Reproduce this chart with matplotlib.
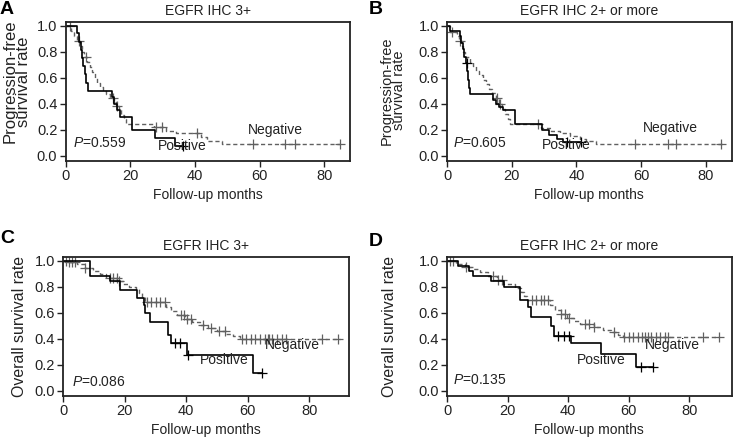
import numpy as np
import matplotlib
matplotlib.use("Agg")
import matplotlib.pyplot as plt

plt.rcParams['font.family'] = ['Liberation Sans', 'DejaVu Sans']
plt.rcParams['mathtext.fontset'] = 'custom'
plt.rcParams['mathtext.it'] = 'Liberation Sans:italic'
plt.rcParams['mathtext.rm'] = 'Liberation Sans'

# -----------------------------------------------
# Data (step times, survival, censor times)
# -----------------------------------------------
# A: PFS, EGFR IHC 3+
a_pos_t = [0, 3.6, 4.2, 4.7, 5.1, 5.5, 5.9, 6.3, 7.0, 14.2, 15.0, 15.8, 16.8, 20.4, 27.6, 33.8]
a_pos_s = [1.0, 0.94, 0.875, 0.81, 0.75, 0.69, 0.625, 0.56, 0.5, 0.45, 0.40, 0.35, 0.30, 0.20, 0.135, 0.07]
a_pos_end = 36.4
a_pos_cens = [36.4]
a_neg_t = [0, 1.8, 2.6, 3.4, 4.4, 5.0, 5.6, 6.6, 7.4, 8.2, 9.0, 9.8, 10.6, 11.4, 12.6, 13.8,
           14.8, 15.6, 16.4, 17.2, 18.0, 18.8, 27.4, 31.0, 34.0, 42.0, 43.6, 48.3]
a_neg_s = [1.0, 0.96, 0.92, 0.88, 0.84, 0.80, 0.76, 0.72, 0.68, 0.64, 0.60, 0.56, 0.53, 0.50, 0.47, 0.44,
           0.41, 0.38, 0.35, 0.31, 0.28, 0.245, 0.22, 0.19, 0.17, 0.14, 0.11, 0.085]
a_neg_end = 85
a_neg_cens = [1.3, 4.1, 6.3, 14.7, 15.8, 28.1, 29.7, 40.5, 58, 67.9, 70.9, 84.9]

# B: PFS, EGFR IHC 2+ or more
b_pos_t = [0, 0.8, 4.0, 4.4, 4.9, 5.3, 5.7, 6.1, 6.5, 6.8, 7.1, 14.2, 15.0, 16.0, 17.2, 20.9, 29.5, 31.5, 34.0, 36.0]
b_pos_s = [1.0, 0.96, 0.92, 0.87, 0.82, 0.76, 0.71, 0.65, 0.58, 0.52, 0.47, 0.43, 0.40, 0.37, 0.35, 0.24, 0.20, 0.155, 0.13, 0.105]
b_pos_end = 41.5
b_pos_cens = [6.0, 37.0, 41.5]
b_neg_t = [0, 1.0, 3.2, 3.8, 4.5, 5.0, 5.6, 7.0, 8.0, 9.0, 10.0, 11.0, 12.0, 13.0, 14.0, 15.0,
           16.0, 17.0, 18.0, 18.8, 19.5, 29.0, 32.0, 35.0, 38.0, 41.0, 43.0, 46.0]
b_neg_s = [1.0, 0.955, 0.92, 0.88, 0.84, 0.80, 0.76, 0.72, 0.69, 0.65, 0.62, 0.58, 0.55, 0.51, 0.48, 0.44,
           0.40, 0.36, 0.32, 0.28, 0.24, 0.21, 0.19, 0.17, 0.15, 0.13, 0.11, 0.085]
b_neg_end = 85
b_neg_cens = [1.4, 4.1, 15.5, 16.5, 28.0, 58, 68.2, 70.8, 84.7]

# C: OS, EGFR IHC 3+
c_pos_t = [0, 8.7, 15.2, 18.4, 23.9, 26.2, 26.6, 28.2, 34.1, 34.9, 40.1, 61.8]
c_pos_s = [1.0, 0.885, 0.84, 0.775, 0.715, 0.66, 0.595, 0.53, 0.43, 0.365, 0.275, 0.14]
c_pos_end = 64.5
c_pos_cens = [36.3, 37.9, 40.6, 64.5]
c_neg_t = [0, 1.5, 4.5, 7.0, 9.5, 12.0, 14.0, 17.5, 19.5, 21.5, 23.5, 24.5, 25.5, 26.5,
           33.5, 35.0, 37.0, 39.5, 42.0, 44.5, 47.0, 50.0, 53.0, 55.3, 57.5]
c_neg_s = [1.0, 0.99, 0.97, 0.94, 0.92, 0.90, 0.87, 0.84, 0.82, 0.80, 0.78, 0.75, 0.72, 0.68,
           0.64, 0.61, 0.58, 0.55, 0.53, 0.505, 0.48, 0.46, 0.44, 0.42, 0.40]
c_neg_end = 90
c_neg_cens = [0.8, 1.8, 2.7, 3.8, 7.1, 15.2, 16.3, 17.3, 18.0, 27.1, 28.6, 30.0, 31.5, 33.1,
              38.3, 39.3, 40.3, 41.5, 45.5, 48.0, 50.5, 52.5, 58.0, 59.5, 61.0, 62.5, 64.0,
              65.5, 66.5, 67.0, 68.0, 69.5, 71.0, 72.5, 84.0, 89.4]

# D: OS, EGFR IHC 2+ or more
d_pos_t = [0, 3.6, 7.3, 8.6, 14.6, 18.8, 24.0, 26.7, 27.8, 34.4, 35.2, 41.0, 50.8, 62.5]
d_pos_s = [1.0, 0.96, 0.92, 0.88, 0.84, 0.80, 0.70, 0.64, 0.565, 0.50, 0.42, 0.365, 0.28, 0.18]
d_pos_end = 68
d_pos_cens = [36.5, 38.5, 40.2, 64.0, 68.0]
d_neg_t = [0, 3.0, 6.0, 8.5, 11.0, 13.5, 16.5, 18.5, 22.5, 24.5, 25.5, 26.5, 34.0, 35.5,
           37.5, 39.5, 42.0, 44.0, 48.5, 51.5, 54.0, 56.5, 58.0]
d_neg_s = [1.0, 0.975, 0.95, 0.935, 0.91, 0.88, 0.85, 0.82, 0.79, 0.76, 0.73, 0.70, 0.66, 0.62,
           0.59, 0.56, 0.535, 0.51, 0.49, 0.47, 0.45, 0.43, 0.41]
d_neg_end = 90
d_neg_cens = [1.0, 2.0, 6.3, 15.2, 16.8, 18.0, 27.9, 29.5, 31.0, 32.0, 33.3, 37.8, 39.0, 40.4,
              45.6, 47.0, 48.6, 55.0, 58.5, 60, 61.5, 63, 64.5, 65.5, 66.5, 67.5, 69, 70.5,
              72, 73, 84.5, 90]

titles = ["EGFR IHC 3+", "EGFR IHC 2+ or more", "EGFR IHC 3+", "EGFR IHC 2+ or more"]
letters = ["A", "B", "C", "D"]
ylabels = ["Progression-free\nsurvival rate", "Progression-free\nsurvival rate",
           "Overall survival rate", "Overall survival rate"]
pvals = ["0.559", "0.605", "0.086", "0.135"]
xmax = [88, 88, 93, 94]

DASH_COL = '#606060'
TXT = '#222222'


def km(ax, t, s, end, cens, **kw):
    t = list(t) + [end]
    s = list(s) + [s[-1]]
    ax.step(t, s, where='post', **kw)
    cens = np.array(cens)
    idx = np.searchsorted(np.array(t), cens, side='right') - 1
    cy = np.array(s)[np.clip(idx, 0, len(s) - 1)]
    ax.plot(cens, cy, linestyle='none', marker='+', ms=6.5, mew=0.9, color=kw.get('color'))


fig = plt.figure(figsize=(7.33, 4.41), dpi=100)
# [left, bottom, width, height] in figure fractions
rects = [[0.0896, 0.6356, 0.388, 0.315], [0.610, 0.6356, 0.388, 0.315],
         [0.0864, 0.102, 0.390, 0.316], [0.610, 0.102, 0.388, 0.316]]
curves = [
    (a_pos_t, a_pos_s, a_pos_end, a_pos_cens, a_neg_t, a_neg_s, a_neg_end, a_neg_cens),
    (b_pos_t, b_pos_s, b_pos_end, b_pos_cens, b_neg_t, b_neg_s, b_neg_end, b_neg_cens),
    (c_pos_t, c_pos_s, c_pos_end, c_pos_cens, c_neg_t, c_neg_s, c_neg_end, c_neg_cens),
    (d_pos_t, d_pos_s, d_pos_end, d_pos_cens, d_neg_t, d_neg_s, d_neg_end, d_neg_cens),
]
# label positions (data coords): negative, positive, P text
neg_xy = [(65, 0.145), (69, 0.16), (74.5, 0.30), (74.5, 0.30)]
pos_xy = [(36, 0.02), (37, 0.025), (52.5, 0.18), (51, 0.18)]
p_xy = [(2.3, 0.10), (1.8, 0.10), (2.7, 0.07), (2.0, 0.08)]
# y-label size, line spacing and centre (axes coords)
ylab_size = [12.0, 10.5, 11.4, 11.4]
ylab_ls = [0.82, 0.82, 1.0, 1.0]
ylab_xy = [(-0.171, 0.57), (-0.191, 0.505), (-0.154, 0.5), (-0.204, 0.5)]

for i, ax_rect in enumerate(rects):
    ax = fig.add_axes(ax_rect)
    pt, ps, pe, pc, nt, ns, ne, nc = curves[i]
    km(ax, nt, ns, ne, nc, color=DASH_COL, lw=1.0, linestyle=(0, (3, 2)))
    km(ax, pt, ps, pe, pc, color='black', lw=1.2)

    ax.set_xlim(0, xmax[i])
    ax.set_ylim(-0.04, 1.03)
    ax.set_xticks([0, 20, 40, 60, 80])
    ax.set_yticks([0.0, 0.2, 0.4, 0.6, 0.8, 1.0])
    ax.set_yticklabels(['0.0', '0.2', '0.4', '0.6', '0.8', '1.0'])
    ax.tick_params(direction='out', length=4.5, width=1.0, labelsize=10.5, pad=1.5, colors=TXT)
    for sp in ax.spines.values():
        sp.set_linewidth(1.3)
        sp.set_color(TXT)

    ax.set_title(titles[i], fontsize=10, pad=5, color=TXT)
    ax.set_xlabel("Follow-up months", fontsize=10, labelpad=3.5, color=TXT)
    ax.set_ylabel(ylabels[i], fontsize=ylab_size[i], color=TXT, linespacing=ylab_ls[i])
    ax.yaxis.label.set_verticalalignment('center')
    ax.yaxis.set_label_coords(*ylab_xy[i])

    ax.text(neg_xy[i][0], neg_xy[i][1], "Negative", fontsize=10, ha='center', va='bottom', color=TXT)
    ax.text(pos_xy[i][0], pos_xy[i][1], "Positive", fontsize=10, ha='center', va='bottom', color=TXT)
    ax.text(p_xy[i][0], p_xy[i][1], r"$\mathit{P}$=" + pvals[i], fontsize=10, ha='left', va='center',
            color=TXT)

# panel letters
fig.text(0.0, 0.998, "A", fontsize=14, fontweight='bold', va='top', ha='left')
fig.text(0.503, 0.998, "B", fontsize=14, fontweight='bold', va='top', ha='left')
fig.text(0.0, 0.478, "C", fontsize=14, fontweight='bold', va='top', ha='left')
fig.text(0.503, 0.472, "D", fontsize=14, fontweight='bold', va='top', ha='left')

fig.savefig("out.png", dpi=100)
